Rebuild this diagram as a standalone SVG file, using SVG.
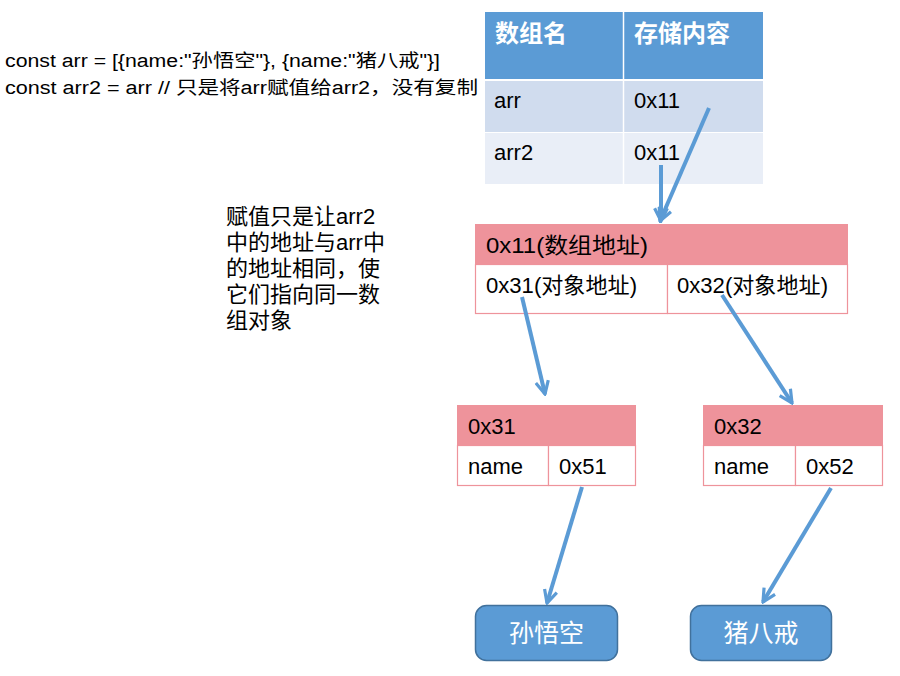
<svg xmlns="http://www.w3.org/2000/svg" width="900" height="676" viewBox="0 0 900 676">
<style>
  text { font-family: "Liberation Sans", "Noto Sans CJK SC", sans-serif; fill: #000; }
  .code { font-size: 18px; }
  .cell { font-size: 22px; }
  .hdr { font-size: 24px; font-weight: bold; fill: #fff; }
  .note { font-size: 22px; }
  .pinkhead { fill: #ee939b; stroke: #ee939b; }
  .pinkcell { fill: #fff; stroke: #ee939b; stroke-width: 1.2; }
  .leaf { fill: #5b9bd5; stroke: #41719c; stroke-width: 1.5; }
  .leaftxt { font-size: 25px; fill: #fff; text-anchor: middle; }
  .conn { stroke: #5b9bd5; stroke-width: 4; fill: none; marker-end: url(#ah); }
</style>
<defs>
  <marker id="ah" viewBox="0 0 10 10" refX="9" refY="5" markerWidth="4" markerHeight="4" orient="auto" markerUnits="strokeWidth">
    <path d="M1,1 L9,5 L1,9" fill="none" stroke="#5b9bd5" stroke-width="2"/>
  </marker>
</defs>
<rect width="900" height="676" fill="#fff"/>

<g id="code">
  <text class="code" x="5" y="67" textLength="435" lengthAdjust="spacingAndGlyphs">const arr = [{name:"孙悟空"}, {name:"猪八戒"}]</text>
  <text class="code" x="5" y="94" textLength="473" lengthAdjust="spacingAndGlyphs">const arr2 = arr // 只是将arr赋值给arr2，没有复制</text>
</g>

<g id="note">
  <text class="note" x="226" y="224">赋值只是让arr2</text>
  <text class="note" x="226" y="250">中的地址与arr中</text>
  <text class="note" x="226" y="276">的地址相同，使</text>
  <text class="note" x="226" y="302">它们指向同一数</text>
  <text class="note" x="226" y="328">组对象</text>
</g>

<g id="table">
  <rect x="485" y="12" width="278" height="67" fill="#5b9bd5"/>
  <rect x="485" y="81" width="278" height="51" fill="#d0dcee"/>
  <rect x="485" y="133" width="278" height="51" fill="#e9eef7"/>
  <line x1="623.5" y1="12" x2="623.5" y2="184" stroke="#fff" stroke-width="1.5"/>
  <text class="hdr" x="495" y="42">数组名</text>
  <text class="hdr" x="634" y="42">存储内容</text>
  <text class="cell" x="494" y="108">arr</text>
  <text class="cell" x="634" y="108">0x11</text>
  <text class="cell" x="494" y="160">arr2</text>
  <text class="cell" x="634" y="160">0x11</text>
</g>

<g id="array">
  <rect class="pinkhead" x="475.5" y="224.5" width="372" height="40"/>
  <rect class="pinkcell" x="475.5" y="264.5" width="192" height="49"/>
  <rect class="pinkcell" x="667.5" y="264.5" width="180" height="49"/>
  <text class="cell" x="486" y="253" textLength="162" lengthAdjust="spacingAndGlyphs">0x11(数组地址)</text>
  <text class="cell" x="486" y="293" textLength="151" lengthAdjust="spacingAndGlyphs">0x31(对象地址)</text>
  <text class="cell" x="677" y="293" textLength="151" lengthAdjust="spacingAndGlyphs">0x32(对象地址)</text>
</g>

<g id="obj1">
  <rect class="pinkhead" x="457.5" y="405.5" width="178" height="40"/>
  <rect class="pinkcell" x="457.5" y="445.5" width="91" height="40"/>
  <rect class="pinkcell" x="548.5" y="445.5" width="87" height="40"/>
  <text class="cell" x="468" y="434">0x31</text>
  <text class="cell" x="468" y="474">name</text>
  <text class="cell" x="559" y="474">0x51</text>
</g>

<g id="obj2">
  <rect class="pinkhead" x="703.5" y="405.5" width="179" height="40"/>
  <rect class="pinkcell" x="703.5" y="445.5" width="92" height="40"/>
  <rect class="pinkcell" x="795.5" y="445.5" width="87" height="40"/>
  <text class="cell" x="714" y="434">0x32</text>
  <text class="cell" x="714" y="474">name</text>
  <text class="cell" x="806" y="474">0x52</text>
</g>

<g id="wukong">
  <rect class="leaf" x="475.5" y="605.5" width="142" height="55" rx="11"/>
  <text class="leaftxt" x="546.5" y="642">孙悟空</text>
</g>

<g id="bajie">
  <rect class="leaf" x="690.5" y="605.5" width="141" height="55" rx="11"/>
  <text class="leaftxt" x="761" y="642">猪八戒</text>
</g>

<g id="connectors">
  <line class="conn" x1="709" y1="108" x2="660" y2="221"/>
  <line class="conn" x1="661" y1="165" x2="661" y2="221"/>
  <line class="conn" x1="522" y1="297" x2="545" y2="394"/>
  <line class="conn" x1="722" y1="295" x2="792" y2="403"/>
  <line class="conn" x1="582" y1="487" x2="547" y2="603"/>
  <line class="conn" x1="831" y1="488" x2="763" y2="602"/>
</g>
</svg>
